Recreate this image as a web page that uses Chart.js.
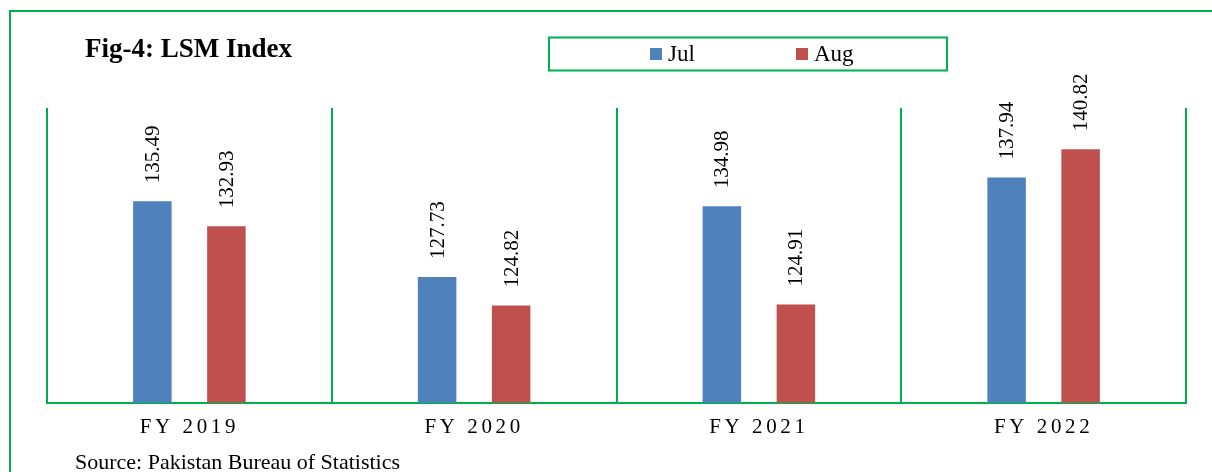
<!DOCTYPE html>
<html>
<head>
<meta charset="utf-8">
<script src="https://cdn.jsdelivr.net/npm/chart.js@4"></script>
<style>
html,body{margin:0;padding:0;background:#fff;}
canvas{display:block;}
</style>
</head>
<body>
<canvas id="c" width="1212" height="472"></canvas>
<script>
const categories = ['FY 2019', 'FY 2020', 'FY 2021', 'FY 2022'];
const julValues = [135.49, 127.73, 134.98, 137.94];
const augValues = [132.93, 124.82, 124.91, 140.82];
const seriesNames = ['Jul', 'Aug'];
const titleText = 'Fig-4: LSM Index';
const sourceText = 'Source: Pakistan Bureau of Statistics';

const GREEN = '#00B050';
const BLUE = '#4F81BD';
const RED = '#C0504D';
const SERIF = '"Liberation Serif", "Times New Roman", serif';

const decorPlugin = {
  id: 'decor',
  beforeDraw(chart) {
    const ctx = chart.ctx;
    ctx.save();
    ctx.fillStyle = '#fff';
    ctx.fillRect(0, 0, chart.width, chart.height);
    ctx.strokeStyle = GREEN;
    ctx.lineWidth = 2;
    ctx.beginPath();
    ctx.moveTo(10, chart.height + 5);
    ctx.lineTo(10, 11);
    ctx.lineTo(chart.width + 5, 11);
    ctx.stroke();
    ctx.restore();
    ctx.letterSpacing = '3.6px';
  },
  beforeDatasetsDraw(chart) {
    chart.ctx.letterSpacing = '0px';
  },
  afterDatasetsDraw(chart) {
    const ctx = chart.ctx;
    ctx.save();
    ctx.font = '21px ' + SERIF;
    ctx.fillStyle = '#000';
    ctx.textAlign = 'left';
    ctx.textBaseline = 'middle';
    chart.data.datasets.forEach((ds, di) => {
      const meta = chart.getDatasetMeta(di);
      meta.data.forEach((el, i) => {
        ctx.save();
        ctx.translate(el.x + 1, el.y - 18);
        ctx.rotate(-Math.PI / 2);
        ctx.fillText(ds.data[i].toFixed(2), 0, 0);
        ctx.restore();
      });
    });
    ctx.restore();
  },
  afterDraw(chart) {
    const ctx = chart.ctx;
    ctx.save();
    ctx.letterSpacing = '0px';
    // title
    ctx.fillStyle = '#000';
    ctx.font = 'bold 27px ' + SERIF;
    ctx.textBaseline = 'alphabetic';
    ctx.textAlign = 'left';
    ctx.fillText(titleText, 85, 57);
    // legend box
    ctx.strokeStyle = GREEN;
    ctx.lineWidth = 2;
    ctx.strokeRect(549, 37.5, 398, 33);
    const items = [{x: 650}, {x: 796}];
    ctx.font = '23px ' + SERIF;
    chart.data.datasets.forEach((ds, i) => {
      const it = items[i];
      ctx.fillStyle = ds.backgroundColor;
      ctx.fillRect(it.x, 48, 12, 12);
      ctx.fillStyle = '#000';
      ctx.fillText(ds.label, it.x + 18, 61);
    });
    // source
    ctx.font = '22px ' + SERIF;
    ctx.fillStyle = '#000';
    ctx.fillText(sourceText, 75, 469);
    ctx.restore();
  }
};

new Chart(document.getElementById('c'), {
  type: 'bar',
  data: {
    labels: categories,
    datasets: [
      { label: seriesNames[0], data: julValues, backgroundColor: BLUE, categoryPercentage: 0.52, barPercentage: 0.52 },
      { label: seriesNames[1], data: augValues, backgroundColor: RED, categoryPercentage: 0.52, barPercentage: 0.52 }
    ]
  },
  options: {
    responsive: false,
    animation: false,
    devicePixelRatio: 1,
    layout: { padding: { top: 108, left: 47, right: 26, bottom: 20 } },
    plugins: {
      legend: { display: false },
      title: { display: false },
      tooltip: { enabled: false }
    },
    scales: {
      x: {
        grid: { display: true, color: GREEN, lineWidth: 2, offset: true, drawTicks: false },
        border: { display: true, color: GREEN, width: 2 },
        ticks: { color: '#000', font: { family: SERIF, size: 21 }, padding: 12, maxRotation: 0 }
      },
      y: {
        display: false,
        min: 114.85,
        max: 145.05
      }
    }
  },
  plugins: [decorPlugin]
});
</script>
</body>
</html>
